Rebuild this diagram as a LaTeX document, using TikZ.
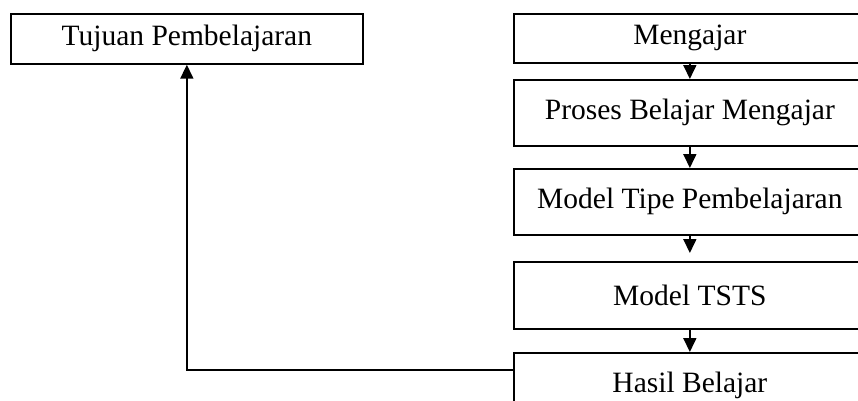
\documentclass[tikz,border=0pt]{standalone}
\usepackage{fontspec}
\setmainfont{Liberation Serif}
\usetikzlibrary{arrows.meta}
\begin{document}
\begin{tikzpicture}[x=1pt,y=-1pt,
  box/.style={draw, line width=1.7pt, minimum width=352pt, inner sep=0pt,
    font=\fontsize{29.5}{35}\selectfont, anchor=north west},
  arr/.style={-{Triangle[length=14pt,width=13pt]}, line width=1.7pt}]
\useasboundingbox (0,0) rectangle (858,400);
\clip (0,0) rectangle (858,400);
\node[box, minimum height=50pt] (tujuan) at (10,13) {Tujuan Pembelajaran};
\node[box, minimum height=49pt] (mengajar) at (513,13) {Mengajar};
\node[box, minimum height=66pt] (proses) at (513,79) {Proses Belajar Mengajar};
\node[box, minimum height=66pt] (tipe) at (513,168) {Model Tipe Pembelajaran};
\node[box, minimum height=67pt] (tsts) at (513,261) {Model TSTS};
\node[box, minimum height=66pt] (hasil) at (513,352) {Hasil Belajar};
\draw[arr] (mengajar.south) -- (proses.north);
\draw[arr] (proses.south) -- (tipe.north);
\draw[arr, shorten >=8pt] (tipe.south) -- (tsts.north);
\draw[arr] (tsts.south) -- (hasil.north);
\draw[arr] ([yshift=16pt]hasil.west) -| (tujuan.south);
\end{tikzpicture}
\end{document}
